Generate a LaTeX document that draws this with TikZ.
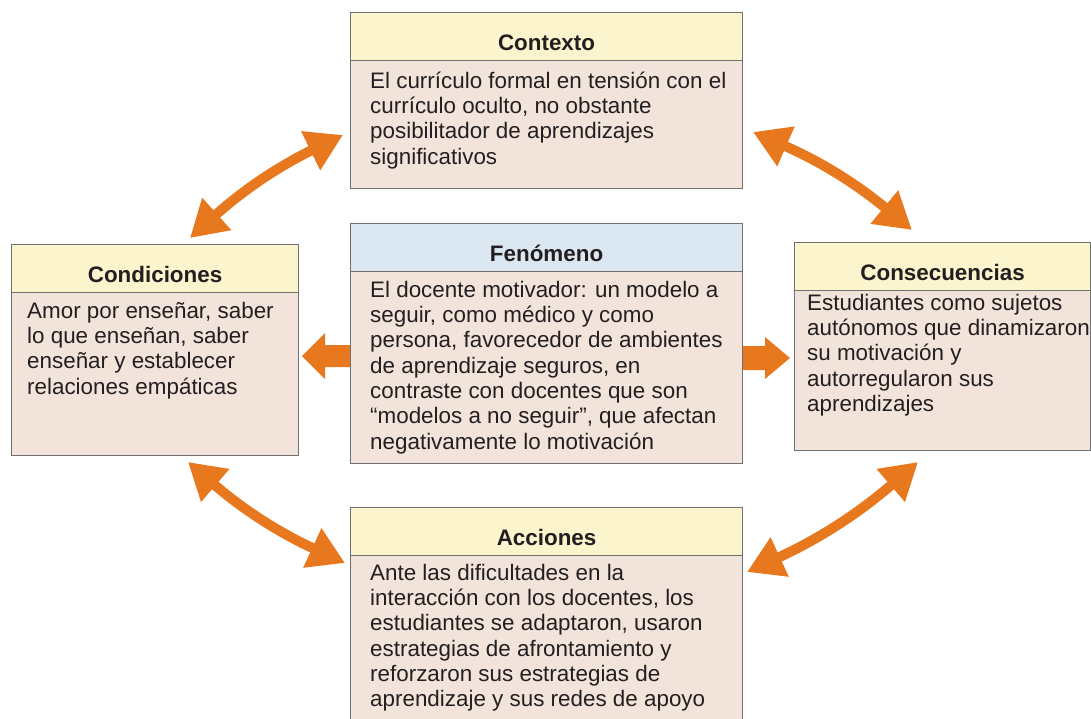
\documentclass[tikz,border=0pt]{standalone}
\usepackage{fontspec}
\setmainfont{Liberation Sans}
\usetikzlibrary{arrows.meta}
\definecolor{hdryellow}{HTML}{FBF4CD}
\definecolor{bodypink}{HTML}{F3E4DB}
\definecolor{hdrblue}{HTML}{DCE8F1}
\definecolor{edgegray}{HTML}{707070}
\definecolor{arroworange}{HTML}{E8781E}
\definecolor{txtcol}{HTML}{231F20}
\newcommand{\firstln}{\rule{0pt}{22pt}}
\begin{document}
\begin{tikzpicture}[x=1pt,y=-1pt,
  hdr/.style={draw=edgegray, line width=1.1pt, fill=hdryellow, minimum height=48pt, inner sep=0pt, anchor=north west, font=\fontsize{22.4}{25.3}\selectfont\bfseries, text height=27pt, text depth=0pt, text=txtcol},
  bodybox/.style={draw=edgegray, line width=1.1pt, fill=bodypink, inner sep=0pt, anchor=north west},
  bodytxt/.style={anchor=north west, align=left, inner sep=0pt, font=\fontsize{22.4}{25.3}\selectfont, text=txtcol},
  dblarrow/.style={draw=arroworange, line width=10pt, {Triangle[length=36pt,width=41pt]}-{Triangle[length=36pt,width=41pt]}},
  blockarrow/.style={fill=arroworange}
]
\path[clip] (0,0) rectangle (1091,718);

% Contexto
\node[bodybox, minimum width=392pt, minimum height=128pt] (ctxb) at (350,60) {};
\node[hdr, minimum width=392pt] (ctxh) at (350,12) {Contexto};
\node[bodytxt] (ctxt) at (370,66) {\firstln El currículo formal en tensión con el\\currículo oculto, no obstante\\posibilitador de aprendizajes\\significativos};

% Fenomeno
\node[bodybox, minimum width=392pt, minimum height=192pt] (fenb) at (350,271) {};
\node[hdr, fill=hdrblue, minimum width=392pt] (fenh) at (350,223) {Fenómeno};
\node[bodytxt] (fent) at (370,275) {\firstln El docente motivador: un modelo a\\seguir, como médico y como\\persona, favorecedor de ambientes\\de aprendizaje seguros, en\\contraste con docentes que son\\“modelos a no seguir”, que afectan\\negativamente lo motivación};

% Condiciones
\node[bodybox, minimum width=287pt, minimum height=163pt] (conb) at (11,292) {};
\node[hdr, minimum width=287pt] (conh) at (11,244) {Condiciones};
\node[bodytxt] (cont) at (27,296) {\firstln Amor por enseñar, saber\\lo que enseñan, saber\\enseñar y establecer\\relaciones empáticas};

% Consecuencias
\node[bodybox, minimum width=296pt, minimum height=160pt] (csqb) at (794,290) {};
\node[hdr, minimum width=296pt] (csqh) at (794,242) {Consecuencias};
\node[bodytxt] (csqt) at (807,288) {\firstln Estudiantes como sujetos\\autónomos que dinamizaron\\su motivación y\\autorregularon sus\\aprendizajes};

% Acciones
\node[bodybox, minimum width=392pt, minimum height=180pt] (accb) at (350,555) {};
\node[hdr, minimum width=392pt] (acch) at (350,507) {Acciones};
\node[bodytxt] (acct) at (370,558) {\firstln Ante las dificultades en la\\interacción con los docentes, los\\estudiantes se adaptaron, usaron\\estrategias de afrontamiento y\\reforzaron sus estrategias de\\aprendizaje y sus redes de apoyo};

% curved double arrows
\coordinate (tlA) at (190,238);
\coordinate (tlB) at (343,135);
\coordinate (trA) at (753,132);
\coordinate (trB) at (912,230);
\coordinate (brA) at (918,462);
\coordinate (brB) at (747,572);
\coordinate (blA) at (345,563);
\coordinate (blB) at (188,462);
\draw[dblarrow] (tlA) to[bend left=8] (tlB);
\draw[dblarrow] (trA) to[bend left=8] (trB);
\draw[dblarrow] (brA) to[bend left=8] (brB);
\draw[dblarrow] (blA) to[bend left=8] (blB);

% block arrows
\fill[blockarrow] (fenb.west |- 0,345) -- (325,345) -- (325,333) -- (302,356) -- (325,379) -- (325,367) -- (fenb.west |- 0,367) -- cycle;
\fill[blockarrow] (fenb.east |- 0,346) -- (765,346) -- (765,337) -- (790,358) -- (765,379) -- (765,370) -- (fenb.east |- 0,370) -- cycle;
\end{tikzpicture}
\end{document}
